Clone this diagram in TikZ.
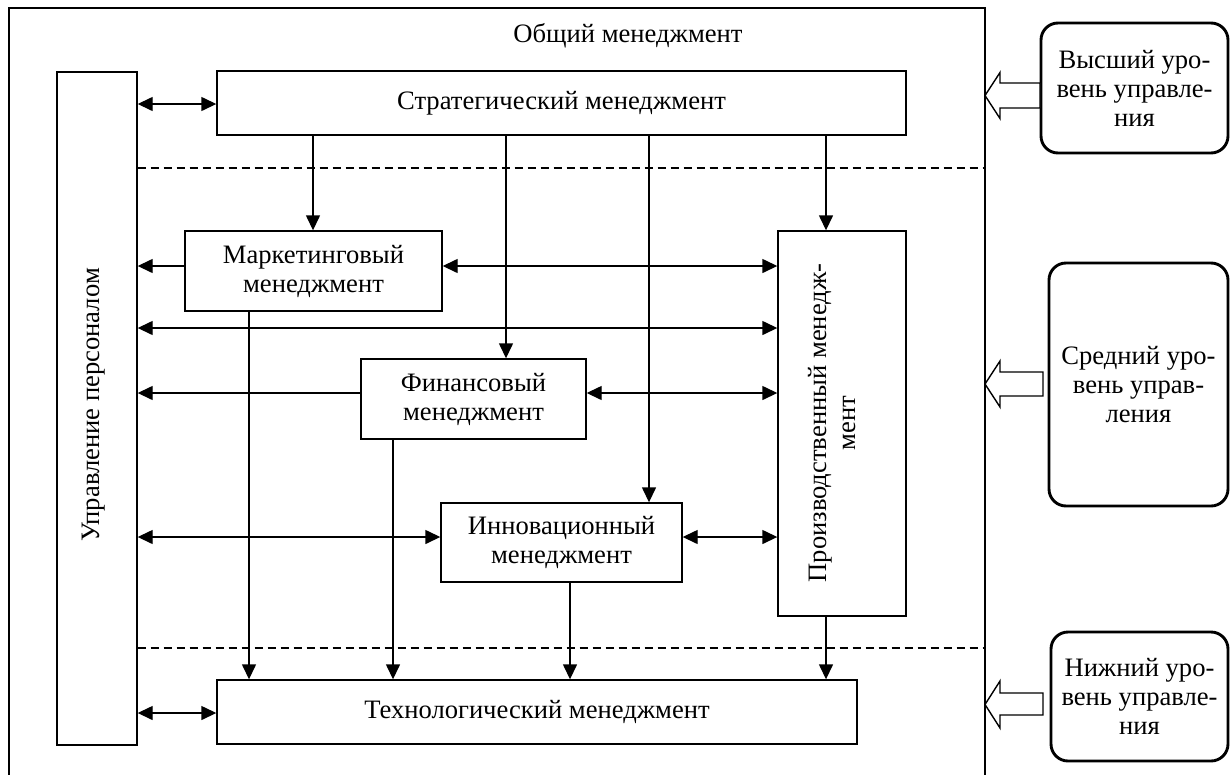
\documentclass[tikz,border=0pt]{standalone}
\usepackage{fontspec}
\setmainfont{Liberation Serif}
\usetikzlibrary{arrows.meta}
\begin{document}
\begin{tikzpicture}[x=1pt,y=-1pt,
  font=\fontsize{26.6}{29}\selectfont,
  box/.style={draw, line width=1.4pt, inner sep=0pt, align=center},
  rbox/.style={draw, line width=2.9pt, rounded corners=17pt, inner sep=0pt, align=center},
  plain/.style={inner sep=0pt, align=center},
  arr/.style={line width=1.4pt, -{Triangle[length=15pt,width=14pt]}},
  dbl/.style={line width=1.4pt, {Triangle[length=15pt,width=14pt]}-{Triangle[length=15pt,width=14pt]}},
  dashline/.style={line width=1.3pt, dash pattern=on 8pt off 5pt},
  blockarr/.style={draw, line width=1.4pt, fill=white, line join=miter}]
\useasboundingbox (0,0) rectangle (1231,774);
\fill[white] (0,0) rectangle (1231,774);

% outer frame
\draw[line width=1.4pt] (9,776) -- (9,8) -- (985,8) -- (985,776);
\node[plain] (general) at (628,36) {Общий менеджмент};

% boxes
\node[box, minimum width=689pt, minimum height=64pt] (strat) at (561.5,103) {Стратегический менеджмент};
\node[box, minimum width=80pt, minimum height=673pt] (pers) at (97,408.5) {};
\node[plain, rotate=90] (perst) at (94,405) {Управление персоналом};
\node[box, minimum width=257pt, minimum height=80pt] (mark) at (313.5,271) {Маркетинговый\\менеджмент};
\node[box, minimum width=128pt, minimum height=385pt] (prod) at (842,423.5) {};
\node[plain, rotate=90] (prodt) at (832,423) {Производственный менедж-\\мент};
\node[box, minimum width=225pt, minimum height=80pt] (fin) at (473.5,399) {Финансовый\\менеджмент};
\node[box, minimum width=241pt, minimum height=79pt] (innov) at (561.5,542.5) {Инновационный\\менеджмент};
\node[box, minimum width=640pt, minimum height=64pt] (tech) at (537,712) {Технологический менеджмент};

% level boxes
\node[rbox, minimum width=187pt, minimum height=130pt] (hi) at (1134.5,88) {Высший уро-\\вень управле-\\ния};
\node[rbox, minimum width=179pt, minimum height=243pt] (mid) at (1138.5,384.5) {Средний уро-\\вень управ-\\ления};
\node[rbox, minimum width=177pt, minimum height=129pt] (lo) at (1139.5,696.5) {Нижний уро-\\вень управле-\\ния};

% helper coordinates
\coordinate (r1) at (0,104);
\coordinate (r2) at (0,266);
\coordinate (r3) at (0,328);
\coordinate (r4) at (0,393);
\coordinate (r5) at (0,537);
\coordinate (r6) at (0,713);
\coordinate (k1) at (313,0);
\coordinate (k2) at (506,0);
\coordinate (k3) at (649,0);
\coordinate (k4) at (826,0);
\coordinate (k5) at (249,0);
\coordinate (k6) at (393,0);
\coordinate (k7) at (570,0);
\coordinate (d1) at (0,168);
\coordinate (d2) at (0,648);
\coordinate (fr) at (985,0);

% dashed level separators
\draw[dashline] (pers.east |- d1) -- (fr |- d1);
\draw[dashline] (pers.east |- d2) -- (fr |- d2);

% connectors
\draw[dbl] (pers.east |- r1) -- (strat.west |- r1);
\draw[arr] (strat.south -| k1) -- (mark.north -| k1);
\draw[arr] (strat.south -| k2) -- (fin.north -| k2);
\draw[arr] (strat.south -| k3) -- (innov.north -| k3);
\draw[arr] (strat.south -| k4) -- (prod.north -| k4);
\draw[arr] (mark.west |- r2) -- (pers.east |- r2);
\draw[dbl] (mark.east |- r2) -- (prod.west |- r2);
\draw[dbl] (pers.east |- r3) -- (prod.west |- r3);
\draw[arr] (fin.west |- r4) -- (pers.east |- r4);
\draw[dbl] (fin.east |- r4) -- (prod.west |- r4);
\draw[dbl] (pers.east |- r5) -- (innov.west |- r5);
\draw[dbl] (innov.east |- r5) -- (prod.west |- r5);
\draw[dbl] (pers.east |- r6) -- (tech.west |- r6);
\draw[arr] (mark.south -| k5) -- (tech.north -| k5);
\draw[arr] (fin.south -| k6) -- (tech.north -| k6);
\draw[arr] (innov.south -| k7) -- (tech.north -| k7);
\draw[arr] (prod.south -| k4) -- (tech.north -| k4);

% block arrows
\draw[blockarr] (985,95.5) -- (1000,72.5) -- (1000,83) -- (1040,83) -- (1040,108) -- (1000,108) -- (1000,118.5) -- cycle;
\draw[blockarr] (985,384) -- (1000,361) -- (1000,372) -- (1043,372) -- (1043,396) -- (1000,396) -- (1000,407) -- cycle;
\draw[blockarr] (985,704.5) -- (1000,681) -- (1000,693) -- (1043,693) -- (1043,715) -- (1000,715) -- (1000,728) -- cycle;
\end{tikzpicture}
\end{document}
